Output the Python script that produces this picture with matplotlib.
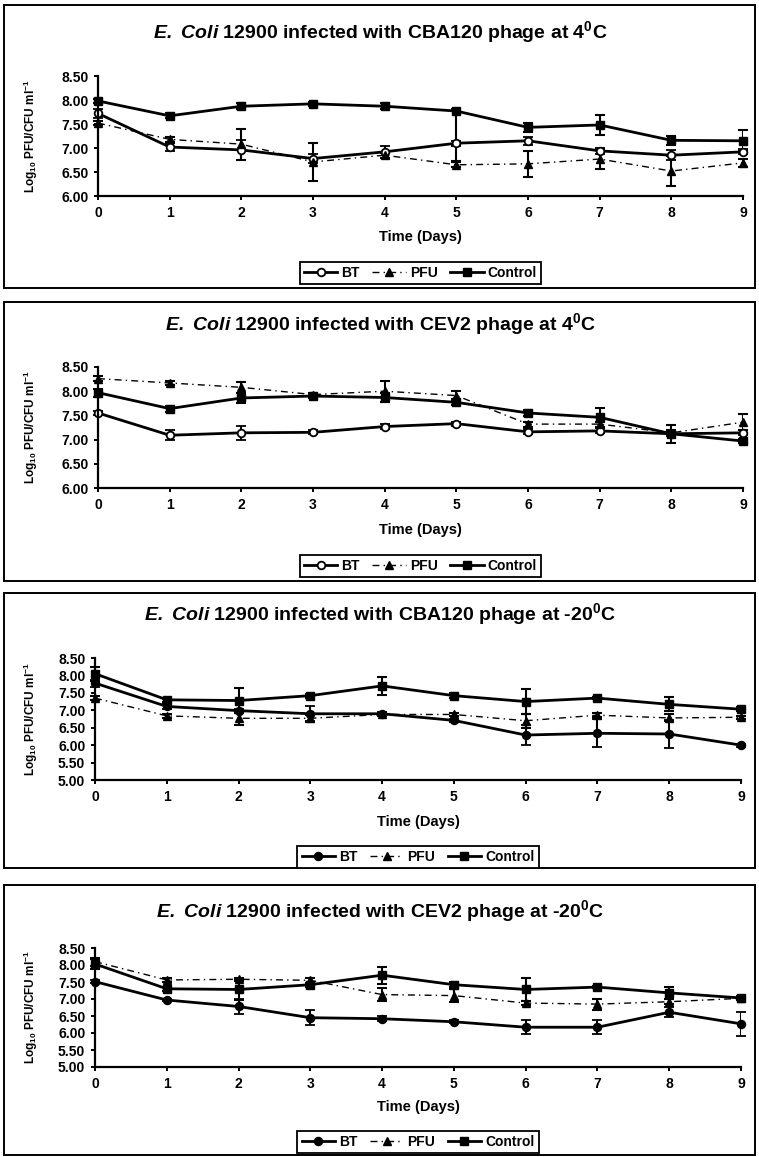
import numpy as np
import matplotlib
matplotlib.use('Agg')
import matplotlib.pyplot as plt
from matplotlib.patches import Rectangle

plt.rcParams['font.family'] = ['Liberation Sans', 'DejaVu Sans']
plt.rcParams['mathtext.fontset'] = 'custom'
plt.rcParams['mathtext.rm'] = 'Liberation Sans'
plt.rcParams['mathtext.bf'] = 'Liberation Sans:bold'
plt.rcParams['mathtext.bfit'] = 'Liberation Sans:italic:bold'

days = [0, 1, 2, 3, 4, 5, 6, 7, 8, 9]

# Panel 1: CBA120 at 4 C
p1_bt = [7.72, 7.02, 6.96, 6.78, 6.92, 7.10, 7.15, 6.94, 6.85, 6.92]
p1_bt_err = [0.10, 0.08, 0.20, 0.10, 0.12, 0.05, 0.08, 0.06, 0.10, 0.05]
p1_pfu = [7.52, 7.18, 7.08, 6.71, 6.85, 6.65, 6.67, 6.77, 6.52, 6.69]
p1_pfu_err = [0.05, 0.05, 0.32, 0.40, 0.05, 0.05, 0.27, 0.20, 0.32, 0.08]
p1_ctrl = [7.98, 7.67, 7.87, 7.92, 7.87, 7.77, 7.43, 7.48, 7.16, 7.15]
p1_ctrl_err_low = [0.05, 0.05, 0.06, 0.04, 0.06, 1.05, 0.10, 0.20, 0.10, 0.22]
p1_ctrl_err_high = [0.05, 0.05, 0.06, 0.04, 0.06, 0.04, 0.10, 0.20, 0.10, 0.22]

# Panel 2: CEV2 at 4 C
p2_bt = [7.55, 7.09, 7.14, 7.15, 7.27, 7.33, 7.16, 7.18, 7.12, 7.14]
p2_bt_err = [0.05, 0.10, 0.15, 0.04, 0.05, 0.04, 0.05, 0.05, 0.05, 0.05]
p2_pfu = [8.26, 8.17, 8.08, 7.93, 8.00, 7.91, 7.32, 7.32, 7.14, 7.36]
p2_pfu_err = [0.05, 0.04, 0.12, 0.04, 0.22, 0.10, 0.05, 0.05, 0.05, 0.17]
p2_ctrl = [7.97, 7.64, 7.86, 7.90, 7.87, 7.77, 7.55, 7.46, 7.12, 6.97]
p2_ctrl_err = [0.08, 0.06, 0.10, 0.04, 0.10, 0.06, 0.06, 0.20, 0.18, 0.04]

# Panel 3: CBA120 at -20 C
p3_bt = [7.78, 7.11, 6.99, 6.90, 6.90, 6.71, 6.29, 6.34, 6.32, 6.00]
p3_bt_err = [0.10, 0.08, 0.05, 0.22, 0.05, 0.05, 0.30, 0.40, 0.40, 0.04]
p3_pfu = [7.35, 6.84, 6.77, 6.77, 6.88, 6.88, 6.70, 6.86, 6.78, 6.80]
p3_pfu_err = [0.05, 0.05, 0.18, 0.10, 0.05, 0.04, 0.20, 0.05, 0.10, 0.05]
p3_ctrl = [8.05, 7.30, 7.28, 7.42, 7.70, 7.42, 7.25, 7.35, 7.17, 7.03]
p3_ctrl_err = [0.20, 0.05, 0.35, 0.06, 0.25, 0.08, 0.35, 0.04, 0.20, 0.05]

# Panel 4: CEV2 at -20 C
p4_bt = [7.51, 6.97, 6.78, 6.45, 6.42, 6.33, 6.17, 6.17, 6.61, 6.27]
p4_bt_err = [0.05, 0.04, 0.22, 0.22, 0.08, 0.04, 0.20, 0.20, 0.15, 0.35]
p4_pfu = [8.10, 7.56, 7.58, 7.55, 7.13, 7.10, 6.88, 6.85, 6.92, 7.02]
p4_pfu_err = [0.12, 0.06, 0.05, 0.08, 0.18, 0.20, 0.06, 0.16, 0.08, 0.05]
p4_ctrl = [8.03, 7.30, 7.28, 7.42, 7.70, 7.42, 7.28, 7.35, 7.18, 7.03]
p4_ctrl_err = [0.15, 0.05, 0.30, 0.06, 0.25, 0.08, 0.33, 0.04, 0.18, 0.05]

titles = [
    r"$\mathbfit{E.}$ $\mathbfit{Coli}$ 12900 infected with CBA120 phage at 4$^{\mathbf{0}}$C",
    r"$\mathbfit{E.}$ $\mathbfit{Coli}$ 12900 infected with CEV2 phage at 4$^{\mathbf{0}}$C",
    r"$\mathbfit{E.}$ $\mathbfit{Coli}$ 12900 infected with CBA120 phage at -20$^{\mathbf{0}}$C",
    r"$\mathbfit{E.}$ $\mathbfit{Coli}$ 12900 infected with CEV2 phage at -20$^{\mathbf{0}}$C",
]
ylabel = r"Log$_{\mathbf{10}}$ PFU/CFU ml$^{\mathbf{-1}}$"
xlabel = "Time (Days)"
series_names = ['BT', 'PFU', 'Control']

W, H = 759, 1157
fig = plt.figure(figsize=(W / 100, H / 100), dpi=100)


def px_rect(x0, y0, x1, y1):
    return [x0 / W, 1 - y1 / H, (x1 - x0) / W, (y1 - y0) / H]


# pixel layout: frame box, plot area, title y, xlabel y, legend centre y
layout = [
    dict(box=(4, 5, 755, 288), ax=(98, 76, 743, 196), title=33, xl=237, leg=273, ymin=6.0),
    dict(box=(4, 302, 755, 581), ax=(98, 367, 743, 488), title=325, xl=530, leg=566, ymin=6.0),
    dict(box=(4, 593, 755, 868), ax=(95, 658, 741, 780), title=615, xl=822, leg=857, ymin=5.0),
    dict(box=(4, 885, 755, 1155), ax=(95, 948, 741, 1067), title=912, xl=1107, leg=1142, ymin=5.0),
]

panel_data = [
    (p1_bt, p1_bt_err, p1_pfu, p1_pfu_err, p1_ctrl, [p1_ctrl_err_low, p1_ctrl_err_high]),
    (p2_bt, p2_bt_err, p2_pfu, p2_pfu_err, p2_ctrl, p2_ctrl_err),
    (p3_bt, p3_bt_err, p3_pfu, p3_pfu_err, p3_ctrl, p3_ctrl_err),
    (p4_bt, p4_bt_err, p4_pfu, p4_pfu_err, p4_ctrl, p4_ctrl_err),
]
bt_face = ['white', 'white', 'black', 'black']

for i, (lay, dat) in enumerate(zip(layout, panel_data)):
    bt, bt_err, pfu, pfu_err, ctrl, ctrl_err = dat

    # frame round each chart
    x0, y0, x1, y1 = lay['box']
    fig.patches.append(Rectangle((x0 / W, 1 - y1 / H), (x1 - x0) / W, (y1 - y0) / H,
                                 transform=fig.transFigure, fill=False,
                                 edgecolor='black', linewidth=1.4))

    ax = fig.add_axes(px_rect(*lay['ax']))
    ekw = dict(ecolor='black', elinewidth=1.5, capsize=3.5, capthick=1.5, color='black')
    h_bt = ax.errorbar(days, bt, yerr=bt_err, linestyle='-', linewidth=2.0, marker='o',
                       markersize=5.5, markerfacecolor=bt_face[i], markeredgecolor='black',
                       markeredgewidth=1.3, label=series_names[0], **ekw)
    h_pfu = ax.errorbar(days, pfu, yerr=pfu_err, linestyle=(0, (5, 3, 1, 3)), linewidth=1.0,
                        marker='^', markersize=5.5, markerfacecolor='black',
                        markeredgecolor='black', label=series_names[1], **ekw)
    h_ctrl = ax.errorbar(days, ctrl, yerr=ctrl_err, linestyle='-', linewidth=2.0, marker='s',
                         markersize=5.5, markerfacecolor='black', markeredgecolor='black',
                         label=series_names[2], **ekw)

    ax.set_xlim(0, 9)
    ax.set_ylim(lay['ymin'], 8.5)
    ax.set_xticks(days)
    ax.set_yticks(np.arange(lay['ymin'], 8.51, 0.5))
    ax.set_yticklabels(['%.2f' % v for v in np.arange(lay['ymin'], 8.51, 0.5)])
    for s in ['top', 'right']:
        ax.spines[s].set_visible(False)
    for s in ['left', 'bottom']:
        ax.spines[s].set_linewidth(1.6)
    ax.tick_params(axis='both', direction='out', length=3, width=1.4, pad=4,
                   labelsize=10)
    for lab in ax.get_xticklabels() + ax.get_yticklabels():
        lab.set_fontweight('bold')
    ax.set_facecolor('none')
    for ln in ax.lines:
        ln.set_clip_on(False)

    ax_x0, ax_y0, ax_x1, ax_y1 = lay['ax']
    fig.text(380 / W, 1 - lay['title'] / H, titles[i], ha='center', va='center',
             fontsize=14, fontweight='bold')
    fig.text((ax_x0 + ax_x1) / 2 / W, 1 - lay['xl'] / H, xlabel, ha='center', va='center',
             fontsize=10.5, fontweight='bold')
    fig.text(31 / W, 1 - (ax_y0 + ax_y1) / 2 / H, ylabel, ha='center', va='center',
             rotation=90, fontsize=8.5, fontweight='bold')

    leg = fig.legend([h_bt[0], h_pfu[0], h_ctrl[0]], series_names, loc='center',
                     bbox_to_anchor=((ax_x0 + ax_x1) / 2 / W, 1 - lay['leg'] / H),
                     ncol=3, frameon=True, fancybox=False, edgecolor='black',
                     framealpha=1, borderpad=0.3, handlelength=2.4, handletextpad=0.3,
                     columnspacing=0.9, prop={'weight': 'bold', 'size': 10})
    leg.get_frame().set_linewidth(1.3)

fig.savefig('out.png', dpi=100, facecolor='white')
